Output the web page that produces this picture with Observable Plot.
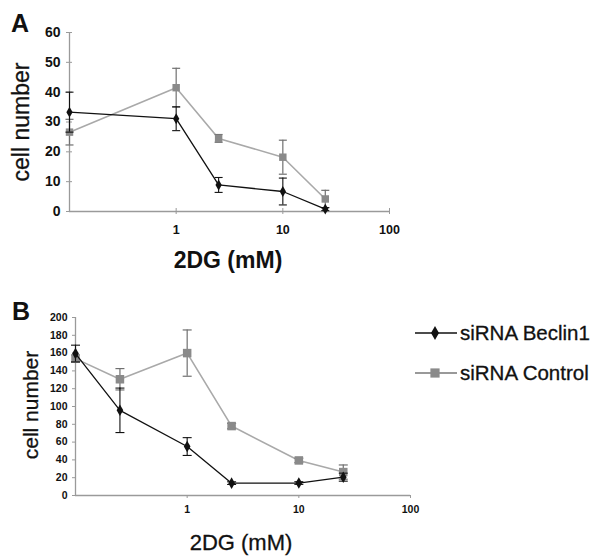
<!DOCTYPE html>
<html>
<head>
<meta charset="utf-8">
<script src="https://cdn.jsdelivr.net/npm/d3@7"></script>
<script src="https://cdn.jsdelivr.net/npm/@observablehq/plot@0.6"></script>
<style>
  html, body { margin: 0; padding: 0; background: #fff; }
  #wrap { position: relative; width: 600px; height: 558px; overflow: hidden; font-family: "Liberation Sans", Arial, sans-serif; }
  #wrap > svg, #wrap > div { position: absolute; }
</style>
</head>
<body>
<div id="wrap"></div>
<script>
// ---- Data ----
const dosesA = [0.1, 1, 2.5, 10, 25];
const beclinA = [33.3, 31.1, 8.9, 6.7, 0.8];
const beclinErrA = [6.7, 4.0, 2.5, 4.5, 0.5];
const controlA = [26.6, 41.5, 24.5, 18.2, 4.2];
const controlErrA = [4.3, 6.5, 1.3, 5.7, 2.9];

const dosesB = [0.1, 0.25, 1, 2.5, 10, 25];
const beclinB = [159.5, 95.7, 55, 13.9, 14, 20.6];
const beclinErrB = [9.4, 25, 10, 1.5, 1.5, 4.5];
const controlB = [153.8, 130.6, 160, 78, 39.4, 26.3];
const controlErrB = [4, 12, 26, 3, 2.5, 8];

const xTicks = [1, 10, 100];
const yTicksA = [0, 10, 20, 30, 40, 50, 60];
const yTicksB = [0, 20, 40, 60, 80, 100, 120, 140, 160, 180, 200];
const seriesNames = ["siRNA Beclin1", "siRNA Control"];
const xLabel = "2DG (mM)";
const yLabel = "cell number";

const FONT = '"Liberation Sans", Arial, sans-serif';
const BLACK = "#111";
const LINEGRAY = "#a9a9a9";
const MARKGRAY = "#8a8a8a";
const BARGRAY = "#707070";
const AXIS = "#9a9a9a";

function rows(doses, vals, errs) {
  return doses.map((x, i) => ({x, y: vals[i], lo: vals[i] - errs[i], hi: vals[i] + errs[i]}));
}

const capSymbol = {
  draw(ctx, size) {
    const r = Math.sqrt(size / Math.PI);
    ctx.moveTo(-r, 0);
    ctx.lineTo(r, 0);
  }
};

function panel({beclin, control, yTicks, yMax, width, height, margins, yFont, xFont, yPad, xPad, cross, capR, markR, sqR}) {
  const marks = [
    Plot.ruleY([0], {stroke: AXIS, strokeWidth: 1.3}),
    Plot.ruleX([0.1], {y1: 0, y2: yMax, stroke: AXIS, strokeWidth: 1.3}),
    Plot.axisY({ticks: yTicks, tickSize: 3, tickPadding: yPad, fontSize: yFont, fontWeight: "bold", stroke: AXIS, fill: "#111", label: null, tickFormat: d => d}),
    Plot.axisX({ticks: xTicks, tickSize: 3, tickPadding: xPad, fontSize: xFont, fontWeight: "bold", stroke: AXIS, fill: "#111", label: null, tickFormat: d => d}),
  ];
  if (cross) {
    marks.push(Plot.axisY({ticks: yTicks, tickSize: -3, stroke: AXIS, label: null, tickFormat: () => ""}));
    marks.push(Plot.axisX({ticks: xTicks, tickSize: -3, stroke: AXIS, label: null, tickFormat: () => ""}));
  }
  // control series (gray) first
  marks.push(
    Plot.line(control, {x: "x", y: "y", stroke: LINEGRAY, strokeWidth: 1.6}),
    Plot.ruleX(control, {x: "x", y1: "lo", y2: "hi", stroke: BARGRAY, strokeWidth: 1.2}),
    Plot.dot(control, {x: "x", y: "lo", symbol: capSymbol, r: capR, stroke: BARGRAY, strokeWidth: 1.2, fill: "none"}),
    Plot.dot(control, {x: "x", y: "hi", symbol: capSymbol, r: capR, stroke: BARGRAY, strokeWidth: 1.2, fill: "none"}),
    Plot.dot(control, {x: "x", y: "y", symbol: "square", r: sqR, fill: MARKGRAY, stroke: "none"}),
    Plot.line(beclin, {x: "x", y: "y", stroke: BLACK, strokeWidth: 1.3}),
    Plot.ruleX(beclin, {x: "x", y1: "lo", y2: "hi", stroke: BLACK, strokeWidth: 1.1}),
    Plot.dot(beclin, {x: "x", y: "lo", symbol: capSymbol, r: capR, stroke: BLACK, strokeWidth: 1.1, fill: "none"}),
    Plot.dot(beclin, {x: "x", y: "hi", symbol: capSymbol, r: capR, stroke: BLACK, strokeWidth: 1.1, fill: "none"}),
    Plot.dot(beclin, {x: "x", y: "y", symbol: "diamond", r: markR, fill: BLACK, stroke: "none"})
  );
  return Plot.plot({
    width, height,
    marginLeft: margins[0], marginRight: margins[1], marginTop: margins[2], marginBottom: margins[3],
    style: {fontFamily: FONT, background: "transparent", color: "#111", overflow: "visible"},
    x: {type: "log", domain: [0.1, 100], axis: null},
    y: {domain: [0, yMax], axis: null},
    marks
  });
}

const wrap = document.getElementById("wrap");

const svgA = panel({
  beclin: rows(dosesA, beclinA, beclinErrA),
  control: rows(dosesA, controlA, controlErrA),
  yTicks: yTicksA, yMax: 60, width: 420, height: 260,
  margins: [69, 31, 32, 49], yFont: 14, xFont: 12.5, yPad: 6, xPad: 11, cross: true,
  capR: 4, markR: 3.3, sqR: 4.2
});
svgA.style.left = "0px"; svgA.style.top = "0px";
wrap.appendChild(svgA);

const svgB = panel({
  beclin: rows(dosesB, beclinB, beclinErrB),
  control: rows(dosesB, controlB, controlErrB),
  yTicks: yTicksB, yMax: 200, width: 440, height: 258,
  margins: [75, 30, 17, 63], yFont: 10.5, xFont: 10.5, yPad: 5, xPad: 7, cross: false,
  capR: 4.5, markR: 3.5, sqR: 4.8
});
svgB.style.left = "0px"; svgB.style.top = "300px";
wrap.appendChild(svgB);

// Overlay: panel letters, axis titles, legend
const ov = d3.select(wrap).append("svg")
  .attr("width", 600).attr("height", 558)
  .style("left", "0px").style("top", "0px")
  .style("font-family", FONT);

ov.append("text").attr("x", 11).attr("y", 32).attr("font-size", 25).attr("font-weight", "bold").attr("fill", "#111").text("A");
ov.append("text").attr("x", 12).attr("y", 320).attr("font-size", 25).attr("font-weight", "bold").attr("fill", "#111").text("B");

ov.append("text").attr("transform", "translate(29,122) rotate(-90)").attr("text-anchor", "middle")
  .attr("font-size", 23).attr("fill", "#111").attr("stroke", "#111").attr("stroke-width", 0.3).text(yLabel);
ov.append("text").attr("transform", "translate(38,405) rotate(-90)").attr("text-anchor", "middle")
  .attr("font-size", 21).attr("fill", "#111").attr("stroke", "#111").attr("stroke-width", 0.3).text(yLabel);

ov.append("text").attr("x", 228).attr("y", 268).attr("text-anchor", "middle")
  .attr("font-size", 23).attr("font-weight", "bold").attr("fill", "#111").text(xLabel);
ov.append("text").attr("x", 241).attr("y", 550).attr("text-anchor", "middle")
  .attr("font-size", 22).attr("fill", "#111").attr("stroke", "#111").attr("stroke-width", 0.3).text(xLabel);

// Legend
const leg = [
  {name: seriesNames[0], y: 333, stroke: BLACK, sym: d3.symbolDiamond, fill: BLACK, size: 55},
  {name: seriesNames[1], y: 373, stroke: "#777", sym: d3.symbolSquare, fill: MARKGRAY, size: 85}
];
leg.forEach(l => {
  ov.append("line").attr("x1", 415).attr("x2", 457).attr("y1", l.y).attr("y2", l.y)
    .attr("stroke", l.stroke).attr("stroke-width", 1.5);
  ov.append("path").attr("transform", `translate(435,${l.y})`)
    .attr("d", d3.symbol(l.sym, l.size)()).attr("fill", l.fill);
  ov.append("text").attr("x", 460).attr("y", l.y + 7).attr("font-size", 20.5).attr("fill", "#111")
    .attr("stroke", "#111").attr("stroke-width", 0.3).text(l.name);
});
</script>
</body>
</html>
